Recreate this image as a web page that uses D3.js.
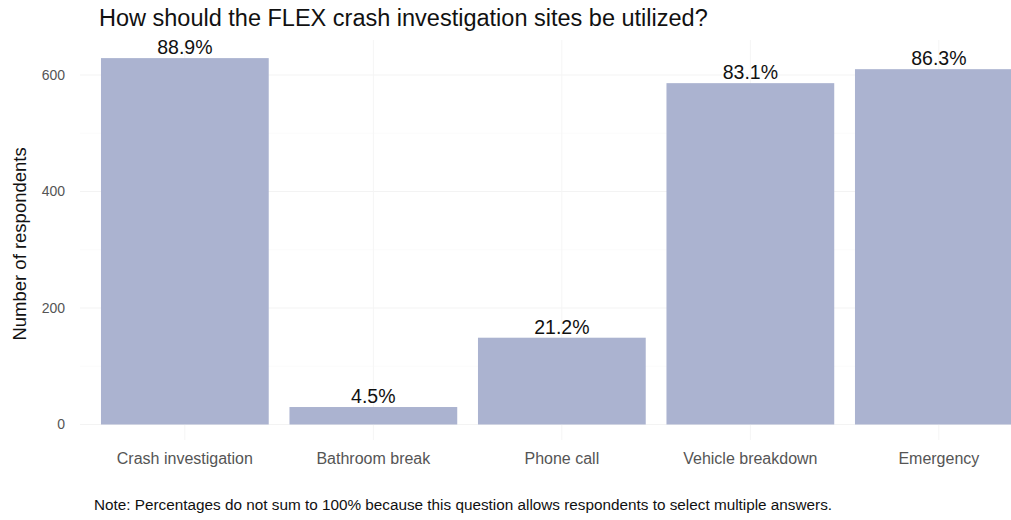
<!DOCTYPE html>
<html>
<head>
<meta charset="utf-8">
<script src="https://cdn.jsdelivr.net/npm/d3@7"></script>
<style>
  html, body { margin: 0; padding: 0; background: #fff; }
  svg { display: block; }
  text { font-family: "Liberation Sans", Arial, sans-serif; }
</style>
</head>
<body>
<svg id="chart" width="1011" height="520"></svg>
<script>
const categories = ["Crash investigation", "Bathroom break", "Phone call", "Vehicle breakdown", "Emergency"];
const counts = [629, 30, 149, 586, 610];
const percentLabels = ["88.9%", "4.5%", "21.2%", "83.1%", "86.3%"];
const yTicks = [0, 200, 400, 600];
const titleText = "How should the FLEX crash investigation sites be utilized?";
const yTitle = "Number of respondents";
const noteText = "Note: Percentages do not sum to 100% because this question allows respondents to select multiple answers.";

const svg = d3.select("#chart");
const W = 1011, H = 520;

const x = d3.scaleBand().domain(categories).range([90.6, 1033.1]).paddingInner(0.11).paddingOuter(0.055);
const y = d3.scaleLinear().domain([0, 600]).range([424.5, 75]);

// grid (very faint)
const grid = svg.append("g");
grid.selectAll("line.minor").data([100, 300, 500]).enter().append("line")
  .attr("x1", 80).attr("x2", W)
  .attr("y1", d => y(d)).attr("y2", d => y(d))
  .attr("stroke", "#f8f8f8").attr("stroke-width", 0.6);
grid.selectAll("line.major").data(yTicks).enter().append("line")
  .attr("x1", 80).attr("x2", W)
  .attr("y1", d => y(d)).attr("y2", d => y(d))
  .attr("stroke", "#f3f3f3").attr("stroke-width", 1);
grid.selectAll("line.v").data(categories).enter().append("line")
  .attr("x1", d => x(d) + x.bandwidth() / 2).attr("x2", d => x(d) + x.bandwidth() / 2)
  .attr("y1", 40).attr("y2", 440)
  .attr("stroke", "#f5f5f5").attr("stroke-width", 1);

// bars
svg.append("g").selectAll("rect").data(categories).enter().append("rect")
  .attr("x", d => x(d))
  .attr("width", x.bandwidth())
  .attr("y", (d, i) => y(counts[i]))
  .attr("height", (d, i) => y(0) - y(counts[i]))
  .attr("fill", "#abb3d0");

// bar labels
svg.append("g").selectAll("text").data(categories).enter().append("text")
  .attr("x", d => x(d) + x.bandwidth() / 2)
  .attr("y", (d, i) => y(counts[i]) - 4)
  .attr("text-anchor", "middle")
  .attr("font-size", 19.5)
  .attr("fill", "#111")
  .text((d, i) => percentLabels[i]);

// y axis
const yAxis = d3.axisLeft(y).tickValues(yTicks).tickSize(0).tickPadding(0);
const yg = svg.append("g").attr("transform", "translate(65,0)").call(yAxis);
yg.select(".domain").remove();
yg.selectAll("text").attr("font-size", 14).attr("fill", "#555").attr("font-family", "Liberation Sans, Arial, sans-serif");

// x axis
const xAxis = d3.axisBottom(x).tickSize(0).tickPadding(0);
const xg = svg.append("g").attr("transform", "translate(0,453)").call(xAxis);
xg.select(".domain").remove();
xg.selectAll("text").attr("font-size", 16).attr("fill", "#555").attr("font-family", "Liberation Sans, Arial, sans-serif");

// title
svg.append("text").attr("x", 99).attr("y", 26)
  .attr("font-size", 23.5).attr("fill", "#111").text(titleText);

// y title
svg.append("text")
  .attr("transform", "translate(26," + y(310) + ") rotate(-90)")
  .attr("text-anchor", "middle")
  .attr("font-size", 18.5).attr("fill", "#111").text(yTitle);

// note
svg.append("text").attr("x", 94).attr("y", 510)
  .attr("font-size", 15.3).attr("fill", "#111").text(noteText);
</script>
</body>
</html>
